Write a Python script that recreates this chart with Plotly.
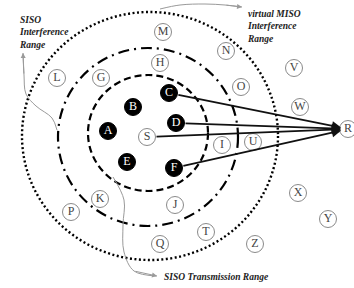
import plotly.graph_objects as go

W, H = 354, 288

# ---- data ----
node_names = ["A", "B", "C", "D", "E", "F", "S",
              "G", "H", "M", "L", "N", "O", "I", "U", "J", "K", "P", "Q", "T", "Z",
              "V", "W", "X", "Y", "R"]
node_x = [108, 133, 169, 176, 127, 174, 147,
          101, 160, 163, 57, 226, 241, 222, 253, 175, 100, 71, 160, 206, 255,
          294, 300, 298, 328, 348]
node_y = [131, 107, 93, 123, 162, 168, 137,
          78, 63, 32, 78, 51, 87, 145, 142, 205, 199, 212, 244, 232, 244,
          68, 107, 193, 219, 129]
node_filled = [1, 1, 1, 1, 1, 1, 0,
               0, 0, 0, 0, 0, 0, 0, 0, 0, 0, 0, 0, 0, 0,
               0, 0, 0, 0, 0]

arrow_sources = ["C", "D", "S", "F"]
arrow_target = "R"

# range rings: center x, center y, radius x, radius y, dash
ring_cx = [148, 148, 150]
ring_cy = [133, 137, 136]
ring_rx = [60, 90, 128]
ring_ry = [58, 89, 124]
ring_dash = ["7px,4px", "11px,5px,2px,5px", "2px,2.5px"]
ring_width = [2.2, 2.2, 2.4]

# callout curves (gray arrows)
c1_x = [57, 52, 36, 26, 24, 23]
c1_y = [130, 118, 106, 94, 75, 53]
c2_x = [160, 180, 205, 225, 242]
c2_y = [9, 5, 4, 5, 7]
c3_x = [113, 124, 123, 124, 134, 157]
c3_y = [177, 200, 225, 252, 271, 276]

label_texts = ["SISO<br>Interference<br>Range",
               "virtual MISO<br>Interference<br>Range",
               "SISO Transmission Range"]
label_x = [17, 245, 162]
label_y = [13, 7, 277]
label_yanchor = ["top", "top", "middle"]

# ---- figure ----
fig = go.Figure()

shapes = []
for cx, cy, rx, ry, d, w in zip(ring_cx, ring_cy, ring_rx, ring_ry, ring_dash, ring_width):
    shapes.append(dict(type="circle", xref="x", yref="y",
                       x0=cx - rx, x1=cx + rx, y0=cy - ry, y1=cy + ry,
                       line=dict(color="black", width=w, dash=d), layer="below"))

gray = "#9a9a9a"
annotations = []
for cx_, cy_ in [(c1_x, c1_y), (c2_x, c2_y), (c3_x, c3_y)]:
    fig.add_trace(go.Scatter(x=cx_, y=cy_, mode="lines",
                             line=dict(color=gray, width=1, shape="spline"),
                             hoverinfo="skip", showlegend=False, cliponaxis=False))
    annotations.append(dict(x=cx_[-1], y=cy_[-1], ax=cx_[-2], ay=cy_[-2],
                            xref="x", yref="y", axref="x", ayref="y",
                            text="", showarrow=True, arrowhead=2, arrowsize=1,
                            arrowwidth=1, arrowcolor=gray))

# arrows to R
idx = {n: i for i, n in enumerate(node_names)}
tx, ty = node_x[idx[arrow_target]], node_y[idx[arrow_target]]
for s in arrow_sources:
    sx, sy = node_x[idx[s]], node_y[idx[s]]
    annotations.append(dict(x=tx, y=ty, ax=sx, ay=sy,
                            xref="x", yref="y", axref="x", ayref="y",
                            text="", showarrow=True, arrowhead=2, arrowsize=1.1,
                            arrowwidth=1.7, arrowcolor="#111", standoff=7,
                            startstandoff=8))

# nodes
fills = ["black" if f else "white" for f in node_filled]
lines = ["black" if f else "#8a8a8a" for f in node_filled]
tcol = ["white" if f else "#444" for f in node_filled]
fig.add_trace(go.Scatter(x=node_x, y=node_y, mode="markers+text",
                         text=node_names, textposition="middle center",
                         textfont=dict(family="Liberation Serif", size=12, color=tcol),
                         marker=dict(size=17, color=fills,
                                     line=dict(color=lines, width=1)),
                         hoverinfo="skip", showlegend=False, cliponaxis=False))

for t, x, y, ya in zip(label_texts, label_x, label_y, label_yanchor):
    annotations.append(dict(x=x, y=y, xref="x", yref="y", text="<b><i>" + t + "</i></b>",
                            showarrow=False, xanchor="left", yanchor=ya, align="left",
                            font=dict(family="Liberation Serif", size=9.5, color="#222")))

fig.update_layout(width=W, height=H, margin=dict(l=0, r=0, t=0, b=0),
                  paper_bgcolor="white", plot_bgcolor="white",
                  shapes=shapes, annotations=annotations, hovermode=False,
                  xaxis=dict(range=[0, W], visible=False, fixedrange=True),
                  yaxis=dict(range=[H, 0], visible=False, fixedrange=True))

fig.write_html("out.html", config={"displayModeBar": False, "staticPlot": True},
               post_script="document.body.style.margin='0';document.body.style.overflow='hidden';")
